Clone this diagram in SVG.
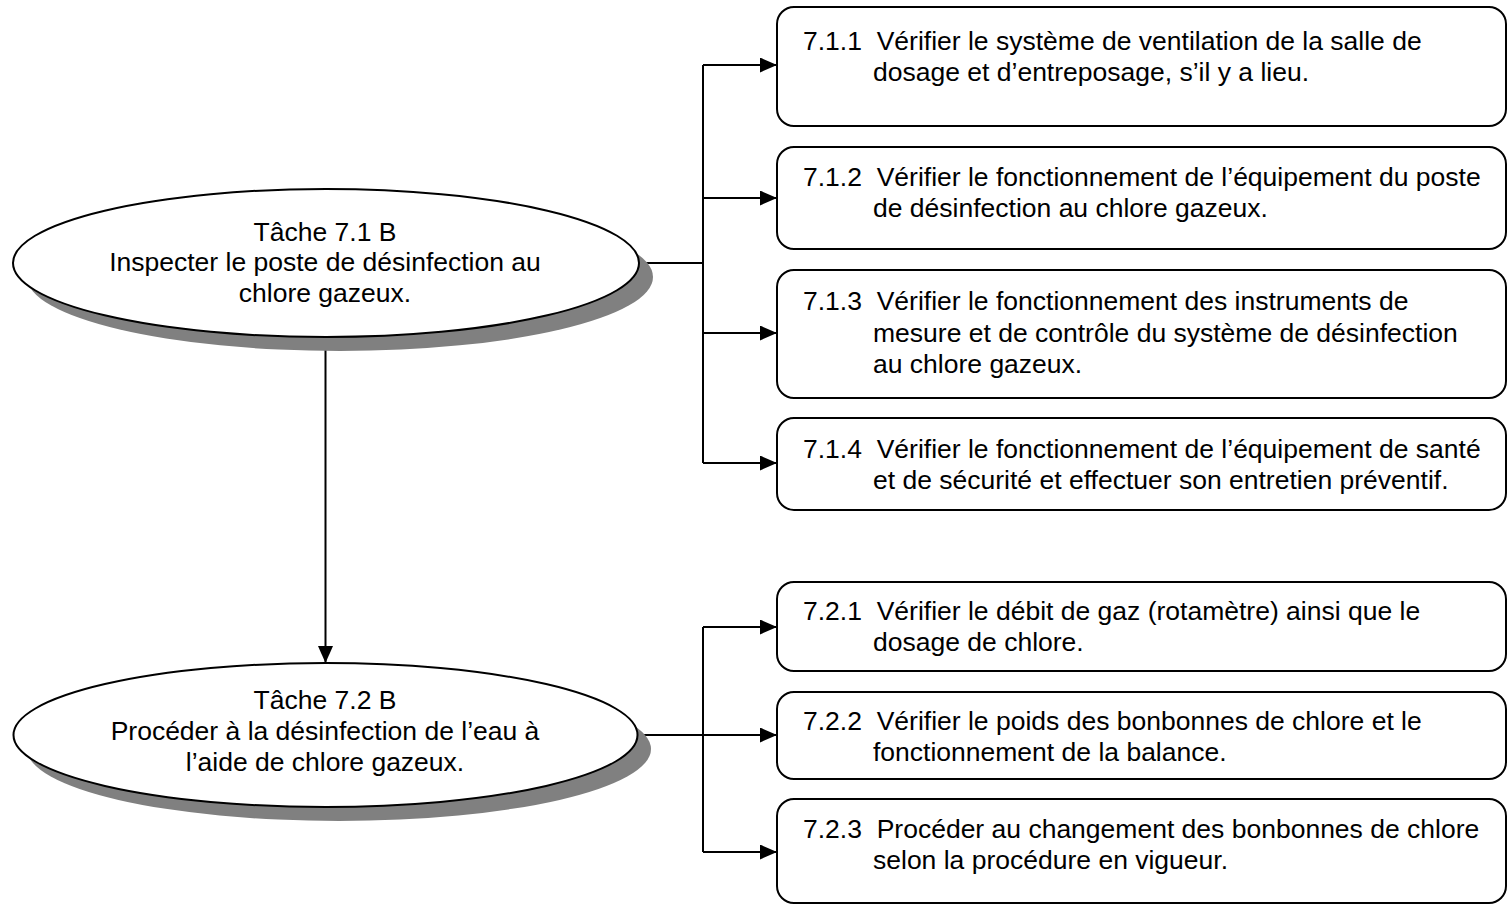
<svg xmlns="http://www.w3.org/2000/svg" width="1507" height="904" viewBox="0 0 1507 904" xml:space="preserve">
<style>
.t{font-family:"Liberation Sans",Arial,sans-serif;font-size:26.5px;fill:#000;white-space:pre}
.c{text-anchor:middle}
.box{fill:#fff;stroke:#000;stroke-width:2}
.ell{fill:#fff;stroke:#000;stroke-width:2}
.sh{fill:#808080}
.ln{fill:none;stroke:#000;stroke-width:2}
</style>
<defs>
<marker id="ah" markerUnits="userSpaceOnUse" markerWidth="18" markerHeight="16" refX="17" refY="7.5" orient="auto">
<path d="M0,0 L17,7.5 L0,15 Z" fill="#000"/>
</marker>
</defs>
<rect width="1507" height="904" fill="#fff"/>
<g id="connectors">
<path class="ln" d="M639,263 H703"/>
<path class="ln" d="M703,65 V463"/>
<path class="ln" d="M703,65 H777" marker-end="url(#ah)"/>
<path class="ln" d="M703,198 H777" marker-end="url(#ah)"/>
<path class="ln" d="M703,333 H777" marker-end="url(#ah)"/>
<path class="ln" d="M703,463 H777" marker-end="url(#ah)"/>
<path class="ln" d="M325.5,337 V663" marker-end="url(#ah)"/>
<path class="ln" d="M638,735 H703"/>
<path class="ln" d="M703,627 V852"/>
<path class="ln" d="M703,627 H777" marker-end="url(#ah)"/>
<path class="ln" d="M703,735 H777" marker-end="url(#ah)"/>
<path class="ln" d="M703,852 H777" marker-end="url(#ah)"/>
</g>
<g id="task71">
<ellipse class="sh" cx="340" cy="277" rx="313" ry="74"/>
<ellipse class="ell" cx="326" cy="263" rx="313" ry="74"/>
<text class="t c" x="325" y="241">Tâche 7.1 B</text>
<text class="t c" x="325" y="271">Inspecter le poste de désinfection au</text>
<text class="t c" x="325" y="302">chlore gazeux.</text>
</g>
<g id="task72">
<ellipse class="sh" cx="339" cy="749" rx="312" ry="72"/>
<ellipse class="ell" cx="325.5" cy="735" rx="312" ry="72"/>
<text class="t c" x="325" y="709">Tâche 7.2 B</text>
<text class="t c" x="325" y="740">Procéder à la désinfection de l’eau à</text>
<text class="t c" x="325" y="771">l’aide de chlore gazeux.</text>
</g>
<g id="s711">
<rect class="box" x="777" y="7" width="729" height="119" rx="17"/>
<text class="t" x="803" y="50">7.1.1  Vérifier le système de ventilation de la salle de</text>
<text class="t" x="873" y="81">dosage et d’entreposage, s’il y a lieu.</text>
</g>
<g id="s712">
<rect class="box" x="777" y="147" width="729" height="102" rx="17"/>
<text class="t" x="803" y="186">7.1.2  Vérifier le fonctionnement de l’équipement du poste</text>
<text class="t" x="873" y="217">de désinfection au chlore gazeux.</text>
</g>
<g id="s713">
<rect class="box" x="777" y="270" width="729" height="128" rx="17"/>
<text class="t" x="803" y="310">7.1.3  Vérifier le fonctionnement des instruments de</text>
<text class="t" x="873" y="342">mesure et de contrôle du système de désinfection</text>
<text class="t" x="873" y="373">au chlore gazeux.</text>
</g>
<g id="s714">
<rect class="box" x="777" y="418" width="729" height="92" rx="17"/>
<text class="t" x="803" y="458">7.1.4  Vérifier le fonctionnement de l’équipement de santé</text>
<text class="t" x="873" y="489">et de sécurité et effectuer son entretien préventif.</text>
</g>
<g id="s721">
<rect class="box" x="777" y="582" width="729" height="89" rx="17"/>
<text class="t" x="803" y="620">7.2.1  Vérifier le débit de gaz (rotamètre) ainsi que le</text>
<text class="t" x="873" y="651">dosage de chlore.</text>
</g>
<g id="s722">
<rect class="box" x="777" y="692" width="729" height="87" rx="17"/>
<text class="t" x="803" y="730">7.2.2  Vérifier le poids des bonbonnes de chlore et le</text>
<text class="t" x="873" y="761">fonctionnement de la balance.</text>
</g>
<g id="s723">
<rect class="box" x="777" y="799" width="729" height="104" rx="17"/>
<text class="t" x="803" y="838">7.2.3  Procéder au changement des bonbonnes de chlore</text>
<text class="t" x="873" y="869">selon la procédure en vigueur.</text>
</g>
</svg>
